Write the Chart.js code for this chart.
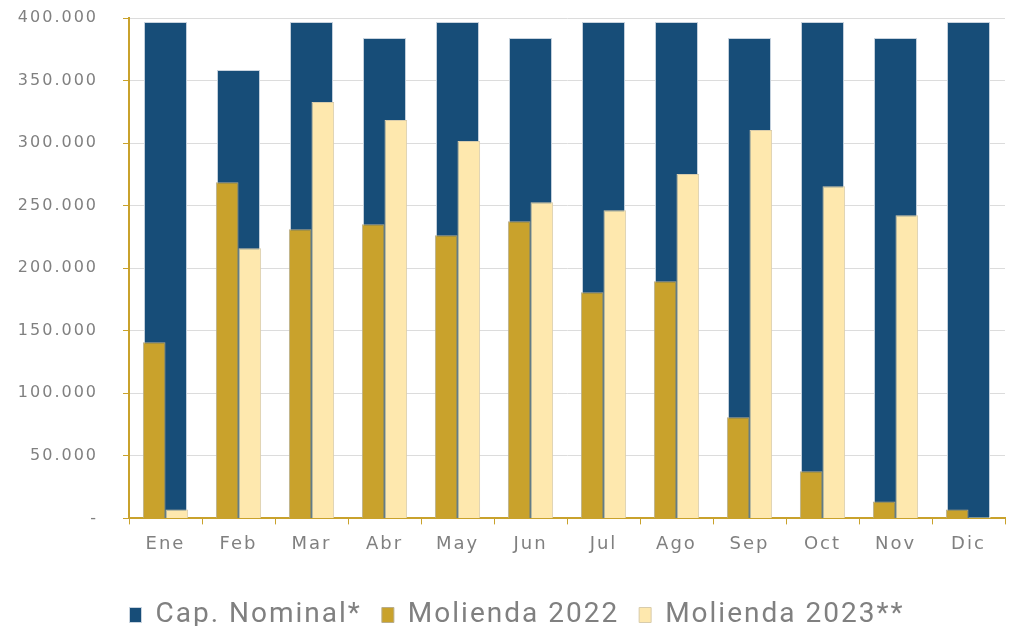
<!DOCTYPE html>
<html>
<head>
<meta charset="utf-8">
<script src="https://cdn.jsdelivr.net/npm/chart.js@4"></script>
<style>
  html, body { margin: 0; padding: 0; background: #fff; }
  #wrap { width: 1013px; height: 626px; }
</style>
</head>
<body>
<div id="wrap"><canvas id="chart" width="1013" height="626"></canvas></div>
<script>
const meses = ["Ene", "Feb", "Mar", "Abr", "May", "Jun", "Jul", "Ago", "Sep", "Oct", "Nov", "Dic"];
const capNominal = [396800, 358400, 396800, 384000, 396800, 384000, 396800, 396800, 384000, 396800, 384000, 396800];
const molienda2022 = [140800, 268800, 231200, 235200, 226400, 237600, 180800, 189600, 80800, 37600, 13600, 7200];
const molienda2023 = [7200, 216000, 332800, 318400, 301600, 252800, 246400, 275200, 310400, 265600, 242400, 1000];

const gold = "#c9a22c";
const gray = "#808080";

function miles(v) {
  if (v === 0) return "-";
  return v.toLocaleString("de-DE");
}

// letras espaciadas, como en el original
const espaciado = {
  id: "espaciado",
  beforeDraw(chart) { chart.ctx.letterSpacing = "2px"; },
  beforeLayout(chart) { chart.ctx.letterSpacing = "2px"; },
};

let ctx = document.getElementById("chart").getContext("2d");
new Chart(ctx, {
  type: "bar",
  data: {
    labels: meses,
    datasets: [
      {
        label: "Cap. Nominal*",
        data: capNominal,
        backgroundColor: "#174d78",
        borderColor: "#c8d3de",
        borderWidth: 1,
        grouped: false,
        categoryPercentage: 1,
        barPercentage: 0.59,
        order: 2,
      },
      {
        label: "Molienda 2022",
        data: molienda2022,
        backgroundColor: gold,
        borderColor: "#b8ad8c",
        borderWidth: 1,
        categoryPercentage: 0.62,
        barPercentage: 1,
        order: 1,
      },
      {
        label: "Molienda 2023**",
        data: molienda2023,
        backgroundColor: "#fee8ae",
        borderColor: "#d8ccac",
        borderWidth: 1,
        categoryPercentage: 0.62,
        barPercentage: 1,
        order: 1,
      },
    ],
  },
  plugins: [espaciado],
  options: {
    responsive: false,
    animation: false,
    layout: { padding: { left: 8, right: -13, top: 18, bottom: -13 } },
    plugins: {
      tooltip: { enabled: false },
      legend: {
        position: "bottom",
        labels: {
          sort: (a, b) => a.datasetIndex - b.datasetIndex,
          boxWidth: 12,
          boxHeight: 15,
          padding: 20,
          color: gray,
          font: { family: "'Liberation Sans Narrow', 'Roboto', sans-serif", size: 28 },
        },
      },
    },
    scales: {
      x: {
        offset: true,
        afterFit: (s) => { s.height += 17; s.paddingRight = 8; },
        grid: {
          offset: true,
          drawOnChartArea: false,
          drawTicks: true,
          tickLength: 6,
          tickColor: gold,
        },
        border: { color: gold, width: 2 },
        ticks: {
          color: gray,
          padding: 9,
          font: { family: "'DejaVu Sans', sans-serif", size: 18 },
        },
      },
      y: {
        min: 0,
        max: 400000,
        afterFit: (s) => { s.width = 121; s.paddingTop = 0; s.paddingBottom = 0; },
        ticks: {
          stepSize: 50000,
          color: gray,
          padding: 25,
          font: { family: "'DejaVu Sans', sans-serif", size: 16 },
          callback: (v) => miles(v),
        },
        grid: {
          color: "#dcdcdc",
          lineWidth: 1,
          tickColor: gold,
          tickLength: 6,
        },
        border: { color: gold, width: 2 },
      },
    },
  },
});
</script>
</body>
</html>
